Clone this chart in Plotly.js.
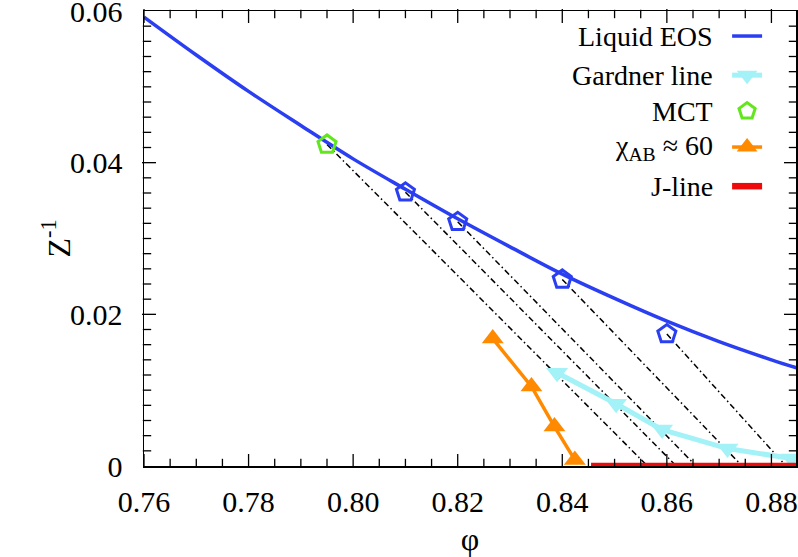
<!DOCTYPE html>
<html>
<head>
<meta charset="utf-8">
<script src="https://cdn.plot.ly/plotly-3.0.1.min.js"></script>
<style>html,body{margin:0;padding:0;background:#fff;}#chart{width:798px;height:557px;}</style>
</head>
<body>
<div id="chart"></div>
<script>
// ---- data ----
const eosPhi = [0.76, 0.77, 0.78, 0.79, 0.80, 0.81, 0.82, 0.83, 0.84, 0.85, 0.86, 0.87, 0.88, 0.885];
const eosZinv = [0.0592, 0.0542, 0.0494, 0.0449, 0.0405, 0.0365, 0.0326, 0.0289, 0.0253, 0.0221, 0.0191, 0.0164, 0.0140, 0.0129];

const mctPhi = [0.795];
const mctZinv = [0.0424];

const statePhi = [0.810, 0.820, 0.840, 0.860];
const stateZinv = [0.0361, 0.0322, 0.0246, 0.0174];

// compression paths: start on the liquid branch, end on the J-line
const pathStartPhi = [0.795, 0.810, 0.820, 0.840, 0.860];
const pathStartZinv = [0.0424, 0.0361, 0.0322, 0.0246, 0.0174];
const pathEndPhi = [0.8563, 0.8618, 0.8656, 0.8744, 0.8828];
const pathEndZinv = [0, 0, 0, 0, 0];

const gardnerPhi = [0.8390, 0.8503, 0.8591, 0.8716, 0.8838];
const gardnerZinv = [0.0123, 0.0082, 0.0048, 0.0023, 0.0010];

const chiPhi = [0.8267, 0.8341, 0.8385, 0.8424];
const chiZinv = [0.0168, 0.0105, 0.0052, 0.0008];

const jlinePhi = [0.8455, 0.8847];
const jlineZinv = [0, 0];

const xTickVals = [0.76, 0.78, 0.80, 0.82, 0.84, 0.86, 0.88];
const xTickText = ['0.76', '0.78', '0.80', '0.82', '0.84', '0.86', '0.88'];
const yTickVals = [0, 0.02, 0.04, 0.06];
const yTickText = ['0', '0.02', '0.04', '0.06'];
const xMinorStep = 0.005;
const yMinorStep = 0.002;

const legendLabels = ['Liquid EOS', 'Gardner line', 'MCT', 'χ<sub>AB</sub> ≈ 60', 'J-line'];

// ---- styles ----
const cBlue = '#2a3ef2';
const cCyan = '#a3f2f7';
const cGreen = '#62e61c';
const cOrange = '#ff8a00';
const cRed = '#ee0a0a';
const FONT = 'Liberation Serif';
const X_RANGE = [0.76, 0.8847];
const Y_RANGE = [0, 0.06];
const M = {l: 144, r: 2, t: 11, b: 91};
const W = 798, H = 557;
const plotW = W - M.l - M.r, plotH = H - M.t - M.b;

// build path segments with gaps
const pathX = [], pathY = [];
for (let i = 0; i < pathStartPhi.length; i++) {
  pathX.push(pathStartPhi[i], pathEndPhi[i], null);
  pathY.push(pathStartZinv[i], pathEndZinv[i], null);
}

// minor tick positions (axis decoration)
const xMinor = [], yMinor = [];
for (let i = 1; X_RANGE[0] + i * xMinorStep < X_RANGE[1] - 1e-9; i++) if (i % 4 !== 0) xMinor.push(+(X_RANGE[0] + i * xMinorStep).toFixed(4));
for (let i = 1; i * yMinorStep < Y_RANGE[1] - 1e-9; i++) if (i % 10 !== 0) yMinor.push(+(i * yMinorStep).toFixed(4));

// legend layout (paper fraction of plot area)
const legRowY = [0.945, 0.859, 0.780, 0.701, 0.615];
const legTextX = 0.875;
const legLineX0 = 0.902, legLineX1 = 0.948, legMidX = 0.925;

const traces = [
  {x: pathX, y: pathY, mode: 'lines', line: {color: '#000', width: 1.5, dash: '6px,3px,1.5px,3px'}, hoverinfo: 'skip'},
  {x: eosPhi, y: eosZinv, mode: 'lines', line: {color: cBlue, width: 3.5, shape: 'spline'}},
  {x: statePhi, y: stateZinv, mode: 'markers', marker: {symbol: 'pentagon-open', size: 19, color: cBlue, line: {width: 3, color: cBlue}}},
  {x: mctPhi, y: mctZinv, mode: 'markers', marker: {symbol: 'pentagon-open', size: 19, color: cGreen, line: {width: 3, color: cGreen}}},
  {x: gardnerPhi, y: gardnerZinv, mode: 'lines+markers', line: {color: cCyan, width: 5}, marker: {symbol: 'triangle-down', size: 19, color: cCyan}, cliponaxis: false},
  {x: chiPhi, y: chiZinv, mode: 'lines+markers', line: {color: cOrange, width: 3.5}, marker: {symbol: 'triangle-up', size: 19, color: cOrange}, cliponaxis: false},
  {x: jlinePhi, y: jlineZinv, mode: 'lines', line: {color: cRed, width: 6.5}, cliponaxis: false}
];

// inside tick marks on all four sides, drawn as line markers at the tick values
function tickTrace(vals, len, horizontalAxis, far) {
  const off = len / 2 / (horizontalAxis ? plotH : plotW);
  const pos = far ? 1 - off : off;
  const mk = {symbol: horizontalAxis ? 'line-ns-open' : 'line-ew-open', size: len, color: '#000', line: {width: 1.3, color: '#000'}};
  if (horizontalAxis) return {x: vals, y: vals.map(() => pos), xaxis: 'x', yaxis: 'y2', mode: 'markers', marker: mk, hoverinfo: 'skip', cliponaxis: false};
  return {x: vals.map(() => pos), y: vals, xaxis: 'x2', yaxis: 'y', mode: 'markers', marker: mk, hoverinfo: 'skip', cliponaxis: false};
}
[false, true].forEach(far => {
  traces.push(tickTrace(xTickVals, 10, true, far));
  traces.push(tickTrace(xMinor, 6, true, far));
  traces.push(tickTrace(yTickVals.filter(v => v > Y_RANGE[0] && v < Y_RANGE[1]), 10, false, far));
  traces.push(tickTrace(yMinor, 6, false, far));
});

// legend samples on an overlay axis spanning [0,1]
const legStyles = [
  {line: {color: cBlue, width: 3.5}, marker: null},
  {line: {color: cCyan, width: 5}, marker: {symbol: 'triangle-down', size: 18, color: cCyan}},
  {line: null, marker: {symbol: 'pentagon-open', size: 17, color: cGreen, line: {width: 3, color: cGreen}}},
  {line: {color: cOrange, width: 3.5}, marker: {symbol: 'triangle-up', size: 18, color: cOrange}},
  {line: {color: cRed, width: 6.5}, marker: null}
];
legStyles.forEach((s, i) => {
  if (s.line) traces.push({x: [legLineX0, legLineX1], y: [legRowY[i], legRowY[i]], xaxis: 'x2', yaxis: 'y2', mode: 'lines', line: s.line, hoverinfo: 'skip'});
  if (s.marker) traces.push({x: [legMidX], y: [legRowY[i]], xaxis: 'x2', yaxis: 'y2', mode: 'markers', marker: s.marker, hoverinfo: 'skip'});
});

const annotations = legendLabels.map((t, i) => ({
  text: t, xref: 'paper', yref: 'paper', x: legTextX, y: legRowY[i],
  xanchor: 'right', yanchor: 'middle', showarrow: false,
  font: {family: FONT, size: 28, color: '#000'}
}));

const axCommon = {
  showgrid: false, zeroline: false,
  showline: true, linecolor: '#000', linewidth: 1.5, mirror: true,
  ticks: '', ticklabeloverflow: 'allow',
  tickfont: {family: FONT, size: 30, color: '#000'}
};

const layout = {
  width: W, height: H,
  margin: M,
  paper_bgcolor: '#fff', plot_bgcolor: '#fff',
  showlegend: false,
  font: {family: FONT, color: '#000'},
  xaxis: Object.assign({}, axCommon, {
    range: X_RANGE, tickmode: 'array', tickvals: xTickVals, ticktext: xTickText,
    ticklabelstandoff: 8,
    title: {text: 'φ', font: {family: FONT, size: 32}}
  }),
  yaxis: Object.assign({}, axCommon, {
    range: Y_RANGE, tickmode: 'array', tickvals: yTickVals, ticktext: yTickText,
    ticklabelstandoff: 14,
    title: {text: 'Z<sup>-1</sup>', font: {family: FONT, size: 32}}
  }),
  xaxis2: {overlaying: 'x', anchor: 'y2', range: [0, 1], visible: false, fixedrange: true},
  yaxis2: {overlaying: 'y', anchor: 'x2', range: [0, 1], visible: false, fixedrange: true},
  annotations: annotations
};

Plotly.newPlot('chart', traces, layout, {displayModeBar: false, staticPlot: true});
</script>
</body>
</html>
